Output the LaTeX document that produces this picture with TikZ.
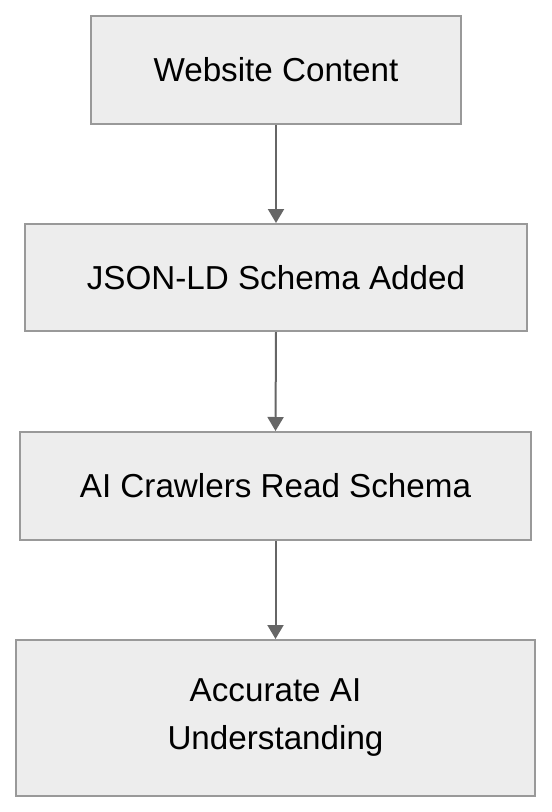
\documentclass[tikz,border=0pt]{standalone}
\usepackage{fontspec}
\setmainfont{Liberation Sans}
\usetikzlibrary{arrows.meta}

\begin{document}
\begin{tikzpicture}[x=1pt,y=-1pt,
  stepbox/.style={draw=black!40,fill=black!7,line width=2pt,inner sep=0pt,
    align=center,font=\fontsize{33.2}{48}\selectfont},
  flow/.style={draw=black!60,line width=2pt,-{Triangle[width=16pt,length=14pt]}}]
\useasboundingbox (0,0) rectangle (552,812);

 \node[stepbox,minimum width=370pt,minimum height=108pt] (web) at (276,70) {Website Content};
 \node[stepbox,minimum width=502pt,minimum height=107pt] (json) at (276,277.5) {JSON-LD Schema Added};
 \node[stepbox,minimum width=511pt,minimum height=108pt] (crawl) at (275.5,486) {AI Crawlers Read Schema};
 \node[stepbox,minimum width=519pt,minimum height=156pt] (ai) at (275.5,718) {Accurate AI\\Understanding};

 \draw[flow] (web.south) -- (json.north);
 \draw[flow] (json.south) -- (crawl.north);
 \draw[flow] (crawl.south) -- (ai.north);

\end{tikzpicture}
\end{document}
